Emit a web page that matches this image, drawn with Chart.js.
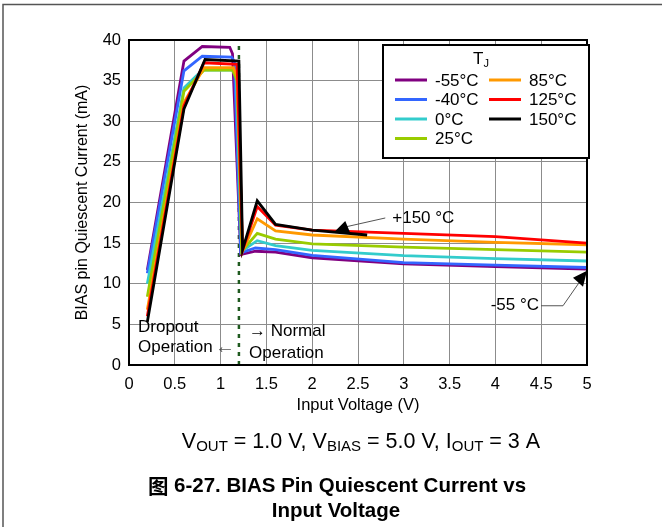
<!DOCTYPE html>
<html>
<head>
<meta charset="utf-8">
<script src="https://cdn.jsdelivr.net/npm/chart.js@4.4.1/dist/chart.umd.min.js"></script>
<style>
  html, body { margin: 0; padding: 0; background: #fff; }
  #wrap { width: 662px; height: 527px; position: relative; }
</style>
</head>
<body>
<div id="wrap"><canvas id="bias-chart" width="662" height="527"></canvas></div>
<script>
// series data (x = input voltage V, y = bias current mA)
var temp_labels = ['-55°C', '-40°C', '0°C', '25°C', '85°C', '125°C', '150°C'];
var temp_colors = ['#800080', '#3366ff', '#33cccc', '#99cc00', '#ff9900', '#ff0000', '#000000'];

var vin_m55 = [0.2, 0.6, 0.8, 1.1, 1.13, 1.22, 1.38, 1.6, 2.0, 3.0, 4.0, 5.0];
var iq_m55  = [11.7, 37.4, 39.2, 39.1, 38.3, 13.6, 14.0, 13.9, 13.2, 12.45, 12.1, 11.8];

var vin_m40 = [0.2, 0.6, 0.8, 1.12, 1.15, 1.22, 1.38, 1.6, 2.0, 3.0, 4.0, 5.0];
var iq_m40  = [11.3, 36.2, 38.0, 37.9, 37.3, 13.8, 14.4, 14.2, 13.5, 12.6, 12.3, 12.0];

var vin_0 = [0.2, 0.6, 0.8, 1.13, 1.17, 1.23, 1.4, 1.6, 2.0, 3.0, 4.0, 5.0];
var iq_0  = [10.0, 34.1, 36.3, 36.3, 35.5, 14.0, 15.3, 14.7, 14.1, 13.45, 13.1, 12.8];

var vin_25 = [0.2, 0.6, 0.82, 1.13, 1.18, 1.23, 1.4, 1.6, 2.0, 3.0, 4.0, 5.0];
var iq_25  = [8.4, 33.7, 36.3, 36.3, 35.0, 14.0, 16.2, 15.5, 14.9, 14.5, 14.2, 13.9];

var vin_85 = [0.2, 0.6, 0.82, 1.14, 1.18, 1.24, 1.4, 1.6, 2.0, 3.0, 4.0, 5.0];
var iq_85  = [6.8, 32.3, 36.6, 36.6, 35.5, 14.0, 18.0, 16.5, 16.0, 15.5, 15.1, 14.8];

var vin_125 = [0.2, 0.6, 0.82, 1.18, 1.24, 1.4, 1.6, 2.0, 3.0, 4.0, 5.0];
var iq_125  = [6.0, 31.9, 37.2, 37.0, 14.1, 19.5, 17.2, 16.6, 16.2, 15.8, 15.0];

var vin_150 = [0.2, 0.6, 0.83, 1.2, 1.24, 1.4, 1.6, 2.0, 2.6];
var iq_150  = [5.3, 31.5, 37.6, 37.4, 14.2, 20.2, 17.3, 16.6, 16.0];

var normal_op_v = 1.2;          // dropout / normal operation boundary
var y_range = [0, 40];
var x_range = [0, 5];

// annotation arrow tips (data coords)
var tip_150 = [2.23, 16.25];
var tip_m55 = [5.0, 11.6];

function pairs(xs, ys) {
  var out = [];
  for (var i = 0; i < xs.length; i++) out.push({x: xs[i], y: ys[i]});
  return out;
}

var series = [
  pairs(vin_m55, iq_m55), pairs(vin_m40, iq_m40), pairs(vin_0, iq_0),
  pairs(vin_25, iq_25), pairs(vin_85, iq_85), pairs(vin_125, iq_125),
  pairs(vin_150, iq_150)
];

var datasets = [];
for (var i = 0; i < series.length; i++) {
  datasets.push({
    label: temp_labels[i],
    data: series[i],
    borderColor: temp_colors[i],
    backgroundColor: temp_colors[i],
    borderWidth: 2.8,
    showLine: true,
    pointRadius: 0,
    tension: 0,
    order: 10 - i
  });
}
// vertical dashed boundary line
datasets.push({
  label: 'boundary',
  data: [{x: normal_op_v, y: y_range[0]}, {x: normal_op_v, y: y_range[1]}],
  borderColor: '#1f5a1f',
  borderWidth: 2.5,
  borderDash: [4, 5],
  showLine: true,
  pointRadius: 0,
  order: 20
});

var FONT = '"Liberation Sans", Arial, sans-serif';
var CJK = '"Noto Sans CJK SC", sans-serif';

// draws a run of text pieces [text, isSub, font], left or centred at x
function runText(ctx, parts, x, y, align) {
  var w = 0;
  parts.forEach(function (p) {
    ctx.font = p[2];
    w += ctx.measureText(p[0]).width;
  });
  var cx = align === 'center' ? x - w / 2 : x;
  ctx.textAlign = 'left';
  parts.forEach(function (p) {
    ctx.font = p[2];
    ctx.fillText(p[0], cx, y + (p[1] ? 5 : 0));
    cx += ctx.measureText(p[0]).width;
  });
}

var extras = {
  id: 'extras',
  beforeDraw: function (chart) {
    var ctx = chart.ctx;
    ctx.save();
    ctx.fillStyle = '#fff';
    ctx.fillRect(0, 0, chart.width, chart.height);
    ctx.restore();
  },
  afterDraw: function (chart) {
    var ctx = chart.ctx;
    var a = chart.chartArea;
    var xs = chart.scales.x, ys = chart.scales.y;
    ctx.save();

    // page frame lines
    ctx.strokeStyle = '#555';
    ctx.lineWidth = 1.5;
    ctx.beginPath();
    ctx.moveTo(3, 527); ctx.lineTo(3, 4.5); ctx.lineTo(662, 4.5);
    ctx.stroke();

    // plot frame
    ctx.strokeStyle = '#000';
    ctx.lineWidth = 2;
    ctx.strokeRect(a.left, a.top, a.right - a.left, a.bottom - a.top);

    // axis titles
    ctx.fillStyle = '#000';
    ctx.textBaseline = 'middle';
    ctx.textAlign = 'center';
    ctx.font = '16.5px ' + FONT;
    ctx.fillText('Input Voltage (V)', (a.left + a.right) / 2, 405);
    ctx.save();
    ctx.translate(83, (a.top + a.bottom) / 2);
    ctx.rotate(-Math.PI / 2);
    ctx.font = '16px ' + FONT;
    ctx.fillText('BIAS pin Quiescent Current (mA)', 0, 0);
    ctx.restore();

    // legend box
    var lx = 383, ly = 45, lw = 206, lh = 113;
    ctx.fillStyle = '#fff';
    ctx.fillRect(lx, ly, lw, lh);
    ctx.strokeStyle = '#000';
    ctx.lineWidth = 2;
    ctx.strokeRect(lx, ly, lw, lh);
    ctx.fillStyle = '#000';
    runText(ctx, [['T', false, '17px ' + FONT], ['J', true, '11px ' + FONT]], 481, 59, 'center');
    var rows = [80, 99.5, 119, 138.5];
    ctx.font = '17px ' + FONT;
    ctx.textAlign = 'left';
    for (var k = 0; k < 7; k++) {
      var col = k < 4 ? 0 : 1;
      var row = k < 4 ? k : k - 4;
      var x0 = col === 0 ? 395 : 489;
      var ds = chart.data.datasets[k];
      ctx.strokeStyle = ds.borderColor;
      ctx.lineWidth = 3;
      ctx.beginPath();
      ctx.moveTo(x0, rows[row]); ctx.lineTo(x0 + 32, rows[row]);
      ctx.stroke();
      ctx.fillStyle = '#000';
      ctx.fillText(ds.label, x0 + 40, rows[row] + 1);
    }

    // +150 C annotation
    var t1x = xs.getPixelForValue(tip_150[0]), t1y = ys.getPixelForValue(tip_150[1]);
    ctx.strokeStyle = '#555';
    ctx.lineWidth = 1;
    ctx.beginPath();
    ctx.moveTo(t1x + 12, t1y - 6); ctx.lineTo(t1x + 52, t1y - 15);
    ctx.stroke();
    ctx.fillStyle = '#000';
    ctx.beginPath();
    ctx.moveTo(t1x, t1y); ctx.lineTo(t1x + 12, t1y - 12); ctx.lineTo(t1x + 17, t1y);
    ctx.closePath(); ctx.fill();
    ctx.font = '17px ' + FONT;
    ctx.textAlign = 'left';
    ctx.fillText('+150 °C', t1x + 59, t1y - 15);

    // -55 C annotation
    var t2x = xs.getPixelForValue(tip_m55[0]), t2y = ys.getPixelForValue(tip_m55[1]);
    ctx.strokeStyle = '#555';
    ctx.beginPath();
    ctx.moveTo(t2x - 46, t2y + 35); ctx.lineTo(t2x - 24, t2y + 35); ctx.lineTo(t2x - 8, t2y + 12);
    ctx.stroke();
    ctx.fillStyle = '#000';
    ctx.beginPath();
    ctx.moveTo(t2x, t2y); ctx.lineTo(t2x - 14, t2y + 7); ctx.lineTo(t2x - 4, t2y + 16);
    ctx.closePath(); ctx.fill();
    ctx.textAlign = 'right';
    ctx.fillText('-55 °C', t2x - 48, t2y + 35);

    // dropout / normal texts
    ctx.font = '17px ' + FONT;
    ctx.textAlign = 'left';
    ctx.fillText('Dropout', 138, 327);
    ctx.fillText('Operation', 138, 347);
    ctx.fillText('\u2192 Normal', 249, 331);
    ctx.fillText('Operation', 249, 353);
    ctx.fillStyle = '#555';
    ctx.font = '20px ' + FONT;
    ctx.fillText('\u2190', 215, 347);

    // conditions + caption
    ctx.fillStyle = '#000';
    var big = '21.5px ' + FONT, small = '15px ' + FONT;
    runText(ctx, [['V', false, big], ['OUT', true, small], [' = 1.0 V, V', false, big], ['BIAS', true, small],
      [' = 5.0 V, I', false, big], ['OUT', true, small], [' = 3 A', false, big]], 361, 442, 'center');
    var cap = 'bold 20.5px ' + FONT;
    runText(ctx, [['图', false, 'bold 20.5px ' + CJK], [' 6-27. BIAS Pin Quiescent Current vs', false, cap]], 337, 486, 'center');
    ctx.font = cap;
    ctx.textAlign = 'center';
    ctx.fillText('Input Voltage', 336, 511);
    ctx.restore();
  }
};

var chart = new Chart(document.getElementById('bias-chart').getContext('2d'), {
  type: 'scatter',
  data: { datasets: datasets },
  options: {
    responsive: false,
    animation: false,
    events: [],
    layout: { padding: { left: 0, top: 40, right: 75, bottom: 0 } },
    plugins: { legend: { display: false }, tooltip: { enabled: false } },
    scales: {
      x: {
        type: 'linear', min: x_range[0], max: x_range[1],
        afterFit: function (s) { s.height = 162; },
        ticks: {
          stepSize: 0.5, color: '#000', padding: 10, font: { size: 16.5, family: FONT },
          callback: function (v) { return String(Math.round(v * 10) / 10); }
        },
        grid: { color: '#8c8c8c', lineWidth: 1, drawTicks: false },
        border: { display: false }
      },
      y: {
        type: 'linear', min: y_range[0], max: y_range[1],
        afterFit: function (s) { s.width = 129; },
        ticks: { stepSize: 5, color: '#000', padding: 8, font: { size: 16.5, family: FONT } },
        grid: { color: '#8c8c8c', lineWidth: 1, drawTicks: false },
        border: { display: false }
      }
    }
  },
  plugins: [extras]
});
</script>
</body>
</html>
